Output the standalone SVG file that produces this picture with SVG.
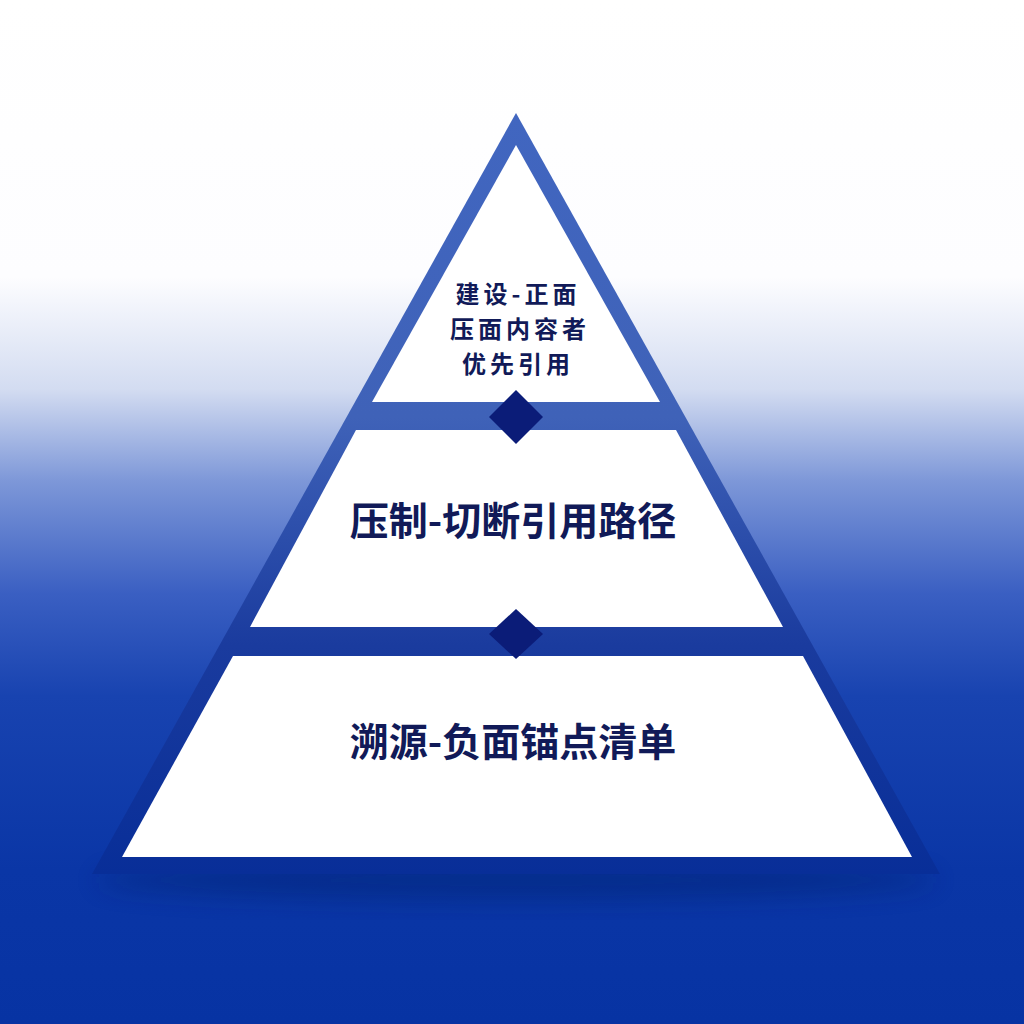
<svg xmlns="http://www.w3.org/2000/svg" width="1024" height="1024" viewBox="0 0 1024 1024">
<defs>
<linearGradient id="bg" x1="0" y1="0" x2="0" y2="1">
<stop offset="0" stop-color="#ffffff"/>
<stop offset="0.27" stop-color="#fdfdff"/>
<stop offset="0.38" stop-color="#d3dcf1"/>
<stop offset="0.47" stop-color="#7d97d8"/>
<stop offset="0.58" stop-color="#3a5fc2"/>
<stop offset="0.68" stop-color="#1843b0"/>
<stop offset="0.85" stop-color="#0a36a6"/>
<stop offset="1" stop-color="#0733a3"/>
</linearGradient>
<linearGradient id="tri" x1="0" y1="0" x2="0" y2="1">
<stop offset="0" stop-color="#4166c0"/>
<stop offset="0.4" stop-color="#3f62b8"/>
<stop offset="0.7" stop-color="#1a3b9e"/>
<stop offset="1" stop-color="#082e98"/>
</linearGradient>
<filter id="sh" x="-20%" y="-50%" width="140%" height="200%">
<feGaussianBlur stdDeviation="12"/>
</filter>
<style>
.tier{fill:#ffffff}
.dia{fill:#0b1c78}
.lbl{font-family:"Noto Sans CJK SC","Noto Sans",sans-serif;font-weight:700;fill:#111a58;text-anchor:middle}
</style>
</defs>
<rect width="1024" height="1024" fill="url(#bg)"/>
<ellipse cx="516" cy="880" rx="420" ry="20" fill="#05206e" opacity="0.45" filter="url(#sh)"/>
<polygon points="516,113 92,874 940,874" fill="url(#tri)"/>
<g id="tier-top">
<polygon class="tier" points="516,145 660,402 372,402"/>
<text class="lbl" font-size="24" letter-spacing="4" x="518" y="303">建设-正面</text>
<text class="lbl" font-size="24" letter-spacing="4" x="520" y="338">压面内容者</text>
<text class="lbl" font-size="24" letter-spacing="4" x="518" y="373">优先引用</text>
</g>
<g id="tier-middle">
<polygon class="tier" points="356,430 676,430 783,627 250,627"/>
<text class="lbl" font-size="39" x="513" y="535">压制-切断引用路径</text>
</g>
<g id="tier-bottom">
<polygon class="tier" points="233,656 803,656 912,857 122,857"/>
<text class="lbl" font-size="39" x="513" y="756">溯源-负面锚点清单</text>
</g>
<g id="connectors">
<polygon class="dia" points="516,390 543,417 516,444 489,417"/>
<polygon class="dia" points="516,609 543,634 516,659 489,634"/>
</g>
</svg>
